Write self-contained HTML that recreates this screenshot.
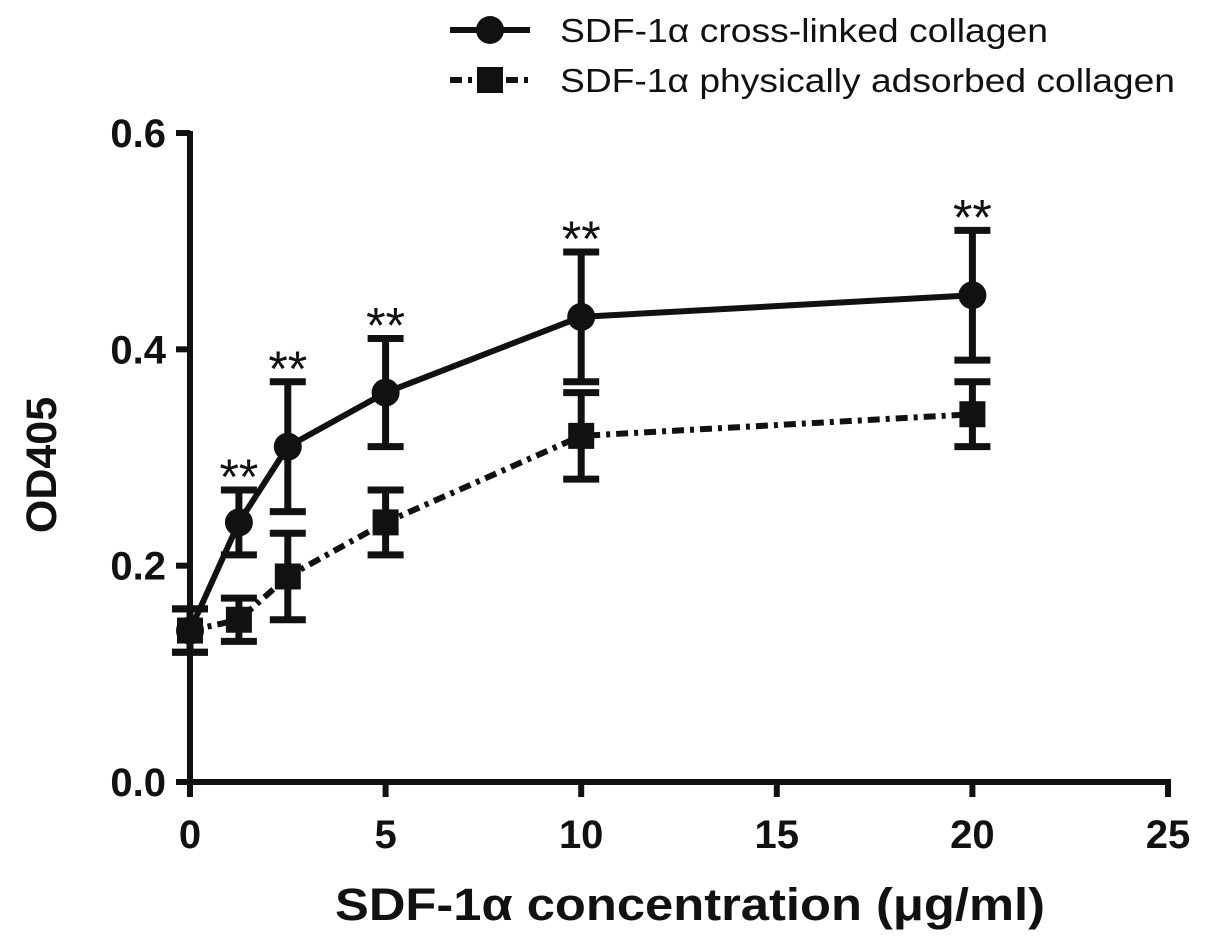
<!DOCTYPE html>
<html><head><meta charset="utf-8"><style>
body{margin:0;background:#fff}
svg{display:block;font-family:"Liberation Sans",Arial,sans-serif}
</style></head><body>
<svg id="c" width="1205" height="943" viewBox="0 0 1205 943">
<g id="axes"></g><g id="marks"></g>
<g>
<g>
<line x1="450" y1="30" x2="530" y2="30" stroke="#111" stroke-width="6"/>
<circle cx="490" cy="30" r="14" fill="#111"/>
<text x="560" y="42" font-size="33" fill="#111" textLength="488" lengthAdjust="spacingAndGlyphs">SDF-1α cross-linked collagen</text></g>
<g>
<line x1="450" y1="80" x2="530" y2="80" stroke="#111" stroke-width="6" stroke-dasharray="12,6,4,6"/>
<rect x="477" y="67" width="26" height="26" fill="#111"/>
<text x="560" y="92" font-size="33" fill="#111" textLength="615" lengthAdjust="spacingAndGlyphs">SDF-1α physically adsorbed collagen</text></g>
</g>
<text x="335" y="920" font-size="45" font-weight="bold" fill="#111" textLength="710" lengthAdjust="spacingAndGlyphs">SDF-1α concentration (μg/ml)</text>
<text transform="translate(56,465) rotate(-90)" font-size="43" font-weight="bold" text-anchor="middle" fill="#111">OD405</text>
</svg>
<script>
const xVals=[0,1.25,2.5,5,10,20];
const crossMean=[0.14,0.24,0.31,0.36,0.43,0.45];
const crossErr=[0.02,0.03,0.06,0.05,0.06,0.06];
const adsMean=[0.14,0.15,0.19,0.24,0.32,0.34];
const adsErr=[0.02,0.02,0.04,0.03,0.04,0.03];
const sigFlags=[false,true,true,true,true,true];
const xTicks=[0,5,10,15,20,25];
const yTicks=[0,0.2,0.4,0.6];
const yTickLabels=["0.0","0.2","0.4","0.6"];
const NS="http://www.w3.org/2000/svg";
const X=v=>190+v*(978/25);
const Y=v=>782-v*(649/0.6);
function mk(p,t,a){const e=document.createElementNS(NS,t);for(const k in a)e.setAttribute(k,a[k]);p.appendChild(e);return e;}
const ax=document.getElementById('axes'),mg=document.getElementById('marks');
const yl=mk(ax,'line',{x1:190,y1:Y(0.6)-2,x2:190,y2:782,stroke:'#111','stroke-width':6});


const xl=mk(ax,'line',{x1:187,y1:782,x2:X(25)+3,y2:782,stroke:'#111','stroke-width':6});


yTicks.forEach((v,i)=>{
 mk(ax,'line',{x1:176,y1:Y(v),x2:190,y2:Y(v),stroke:'#111','stroke-width':6});
 const t=mk(ax,'text',{x:166,y:Y(v)+14,'font-size':40,'font-weight':'bold','text-anchor':'end',fill:'#111'});
 t.textContent=yTickLabels[i];
 
 
});
xTicks.forEach(v=>{
 mk(ax,'line',{x1:X(v),y1:782,x2:X(v),y2:797,stroke:'#111','stroke-width':6});
 const t=mk(ax,'text',{x:X(v),y:848,'font-size':40,'font-weight':'bold','text-anchor':'middle',fill:'#111'});
 t.textContent=String(v);
 
 
});
function series(mean,err,dash,shape,name){
 const g=mk(mg,'g',{});
 
 
 const pl=mk(g,'polyline',{points:xVals.map((x,i)=>X(x)+','+Y(mean[i])).join(' '),fill:'none',stroke:'#111','stroke-width':6});
 if(dash)pl.setAttribute('stroke-dasharray',dash);
 xVals.forEach((x,i)=>{
  const cx=X(x),t=Y(mean[i]+err[i]),b=Y(mean[i]-err[i]);
  mk(g,'line',{x1:cx,y1:t,x2:cx,y2:b,stroke:'#111','stroke-width':7});
  mk(g,'line',{x1:cx-18,y1:t,x2:cx+18,y2:t,stroke:'#111','stroke-width':7});
  mk(g,'line',{x1:cx-18,y1:b,x2:cx+18,y2:b,stroke:'#111','stroke-width':7});
  let m;
  if(shape==='c')m=mk(g,'circle',{cx:cx,cy:Y(mean[i]),r:14,fill:'#111'});
  else m=mk(g,'rect',{x:cx-13,y:Y(mean[i])-13,width:26,height:26,fill:'#111'});
  
  
 });
}
series(adsMean,adsErr,'12,6,4,6','s','series-adsorbed');
series(crossMean,crossErr,null,'c','series-cross-linked');
xVals.forEach((x,i)=>{
 if(!sigFlags[i])return;
 const t=mk(mg,'text',{x:X(x),y:Y(crossMean[i]+crossErr[i])+4,'font-size':50,'text-anchor':'middle',fill:'#111'});
 t.textContent='**';
 
 
});
</script>
</body></html>
